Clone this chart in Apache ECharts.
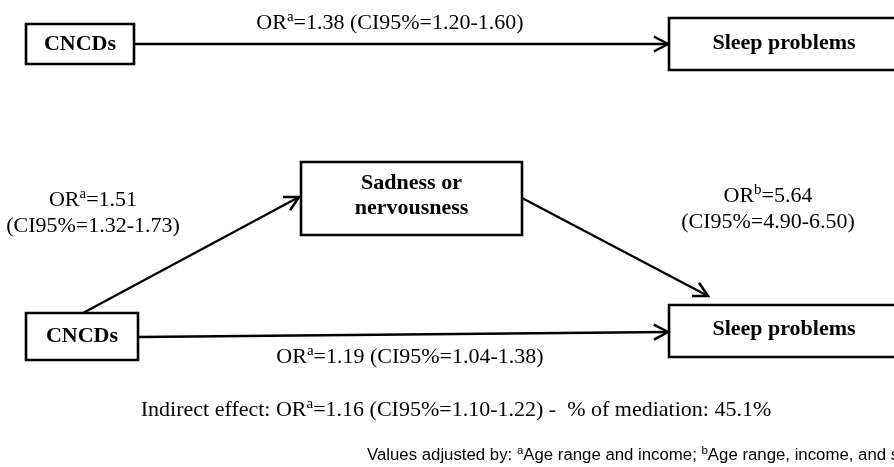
<!DOCTYPE html>
<html>
<head>
<meta charset="utf-8">
<script src="https://cdn.jsdelivr.net/npm/echarts@6/dist/echarts.min.js"></script>
<style>
  html, body { margin: 0; padding: 0; background: #fff; }
  #chart { width: 894px; height: 467px; }
</style>
</head>
<body>
<div id="chart"></div>
<script>
// variables in the model
const nodeNames = ['CNCDs', 'Sleep problems', 'CNCDs', 'Sadness or\nnervousness', 'Sleep problems'];
// paths: total effect, a, b, direct effect
const pathFrom = [0, 2, 3, 2];
const pathTo = [1, 3, 4, 4];
const pathSup = ['a', 'a', 'b', 'a'];
const pathOR = ['1.38', '1.51', '5.64', '1.19'];
const pathCI = ['1.20-1.60', '1.32-1.73', '4.90-6.50', '1.04-1.38'];
const indirectOR = '1.16';
const indirectCI = '1.10-1.22';
const mediationPct = '45.1%';
const adjustA = 'Age range and income';
const adjustB = 'Age range, income, and sex';

// layout, in the pixel frame of the picture
const boxRect = [[26, 24, 134, 64], [669, 18, 899, 70], [26, 313, 138, 360], [301, 162, 522, 235], [669, 305, 899, 357]];
const boxTextShift = [0, -1, 0, -3, -2];
const arrowEnds = [[134, 44, 668, 44], [83, 313, 299, 197], [522, 198, 708, 296], [138, 337, 668, 332]];
const pathLabelPos = [[390, 23], [93, 213], [768, 209], [410, 357]];
const pathLabelStacked = [false, true, true, false];

const serif = '"Liberation Serif", "Times New Roman", serif';
const sans = '"Liberation Sans", Arial, sans-serif';
const rich = {
  r: { fontFamily: serif, fontSize: 22, lineHeight: 26, fill: '#000' },
  s: { fontFamily: serif, fontSize: 15, lineHeight: 14, verticalAlign: 'top', fill: '#000' },
  f: { fontFamily: sans, fontSize: 16.8, lineHeight: 20, fill: '#000' },
  fs: { fontFamily: sans, fontSize: 11.5, lineHeight: 11, verticalAlign: 'top', fill: '#000' }
};

function pathText(i) {
  const head = '{r|OR}{s|' + pathSup[i] + '}{r|=' + pathOR[i] + '}';
  const ci = '{r|(CI95%=' + pathCI[i] + ')}';
  return pathLabelStacked[i] ? head + '\n' + ci : head + '{r| }' + ci;
}

const texts = pathOR.map((v, i) => ({ x: pathLabelPos[i][0], y: pathLabelPos[i][1], text: pathText(i), align: 'center' }));
texts.push({ x: 456, y: 410, align: 'center',
  text: '{r|Indirect effect: OR}{s|a}{r|=' + indirectOR + ' (CI95%=' + indirectCI + ') -  % of mediation: ' + mediationPct + '}' });
texts.push({ x: 367, y: 455, align: 'left',
  text: '{f|Values adjusted by: }{fs|a}{f|' + adjustA + '; }{fs|b}{f|' + adjustB + '}' });

const chart = echarts.init(document.getElementById('chart'));
chart.setOption({
  animation: false,
  backgroundColor: '#fff',
  grid: { left: 0, right: 0, top: 0, bottom: 0 },
  xAxis: { type: 'value', min: 0, max: 894, show: false },
  yAxis: { type: 'value', min: 0, max: 467, inverse: true, show: false },
  series: [
    {
      type: 'custom',
      name: 'boxes',
      data: boxRect.map((r, i) => [r[0], r[1], r[2], r[3], i]),
      renderItem(params, api) {
        const a = api.coord([api.value(0), api.value(1)]);
        const b = api.coord([api.value(2), api.value(3)]);
        return {
          type: 'group',
          children: [
            { type: 'rect', shape: { x: a[0], y: a[1], width: b[0] - a[0], height: b[1] - a[1] },
              style: { fill: '#fff', stroke: '#000', lineWidth: 2.6 } },
            { type: 'text', x: (a[0] + b[0]) / 2, y: (a[1] + b[1]) / 2 + boxTextShift[params.dataIndex],
              style: { text: nodeNames[params.dataIndex], fontFamily: serif, fontWeight: 'bold', fontSize: 22,
                lineHeight: 25, fill: '#000', align: 'center', verticalAlign: 'middle' } }
          ]
        };
      }
    },
    {
      type: 'custom',
      name: 'paths',
      data: arrowEnds.map((e, i) => [e[0], e[1], e[2], e[3], pathFrom[i], pathTo[i]]),
      renderItem(params, api) {
        const p1 = api.coord([api.value(0), api.value(1)]);
        const p2 = api.coord([api.value(2), api.value(3)]);
        const ang = Math.atan2(p2[1] - p1[1], p2[0] - p1[0]);
        const L = 16, A = 28 * Math.PI / 180;
        const w1 = [p2[0] - L * Math.cos(ang - A), p2[1] - L * Math.sin(ang - A)];
        const w2 = [p2[0] - L * Math.cos(ang + A), p2[1] - L * Math.sin(ang + A)];
        return {
          type: 'group',
          children: [
            { type: 'line', shape: { x1: p1[0], y1: p1[1], x2: p2[0], y2: p2[1] }, style: { stroke: '#000', lineWidth: 2.3 } },
            { type: 'polyline', shape: { points: [w1, p2, w2] }, style: { stroke: '#000', fill: null, lineWidth: 2.5 } }
          ]
        };
      }
    },
    {
      type: 'custom',
      name: 'labels',
      data: texts.map(t => [t.x, t.y]),
      renderItem(params, api) {
        const t = texts[params.dataIndex];
        const p = api.coord([api.value(0), api.value(1)]);
        return { type: 'text', x: p[0], y: p[1],
          style: { text: t.text, rich: rich, align: t.align, verticalAlign: 'middle', fill: '#000' } };
      }
    }
  ]
});
</script>
</body>
</html>
